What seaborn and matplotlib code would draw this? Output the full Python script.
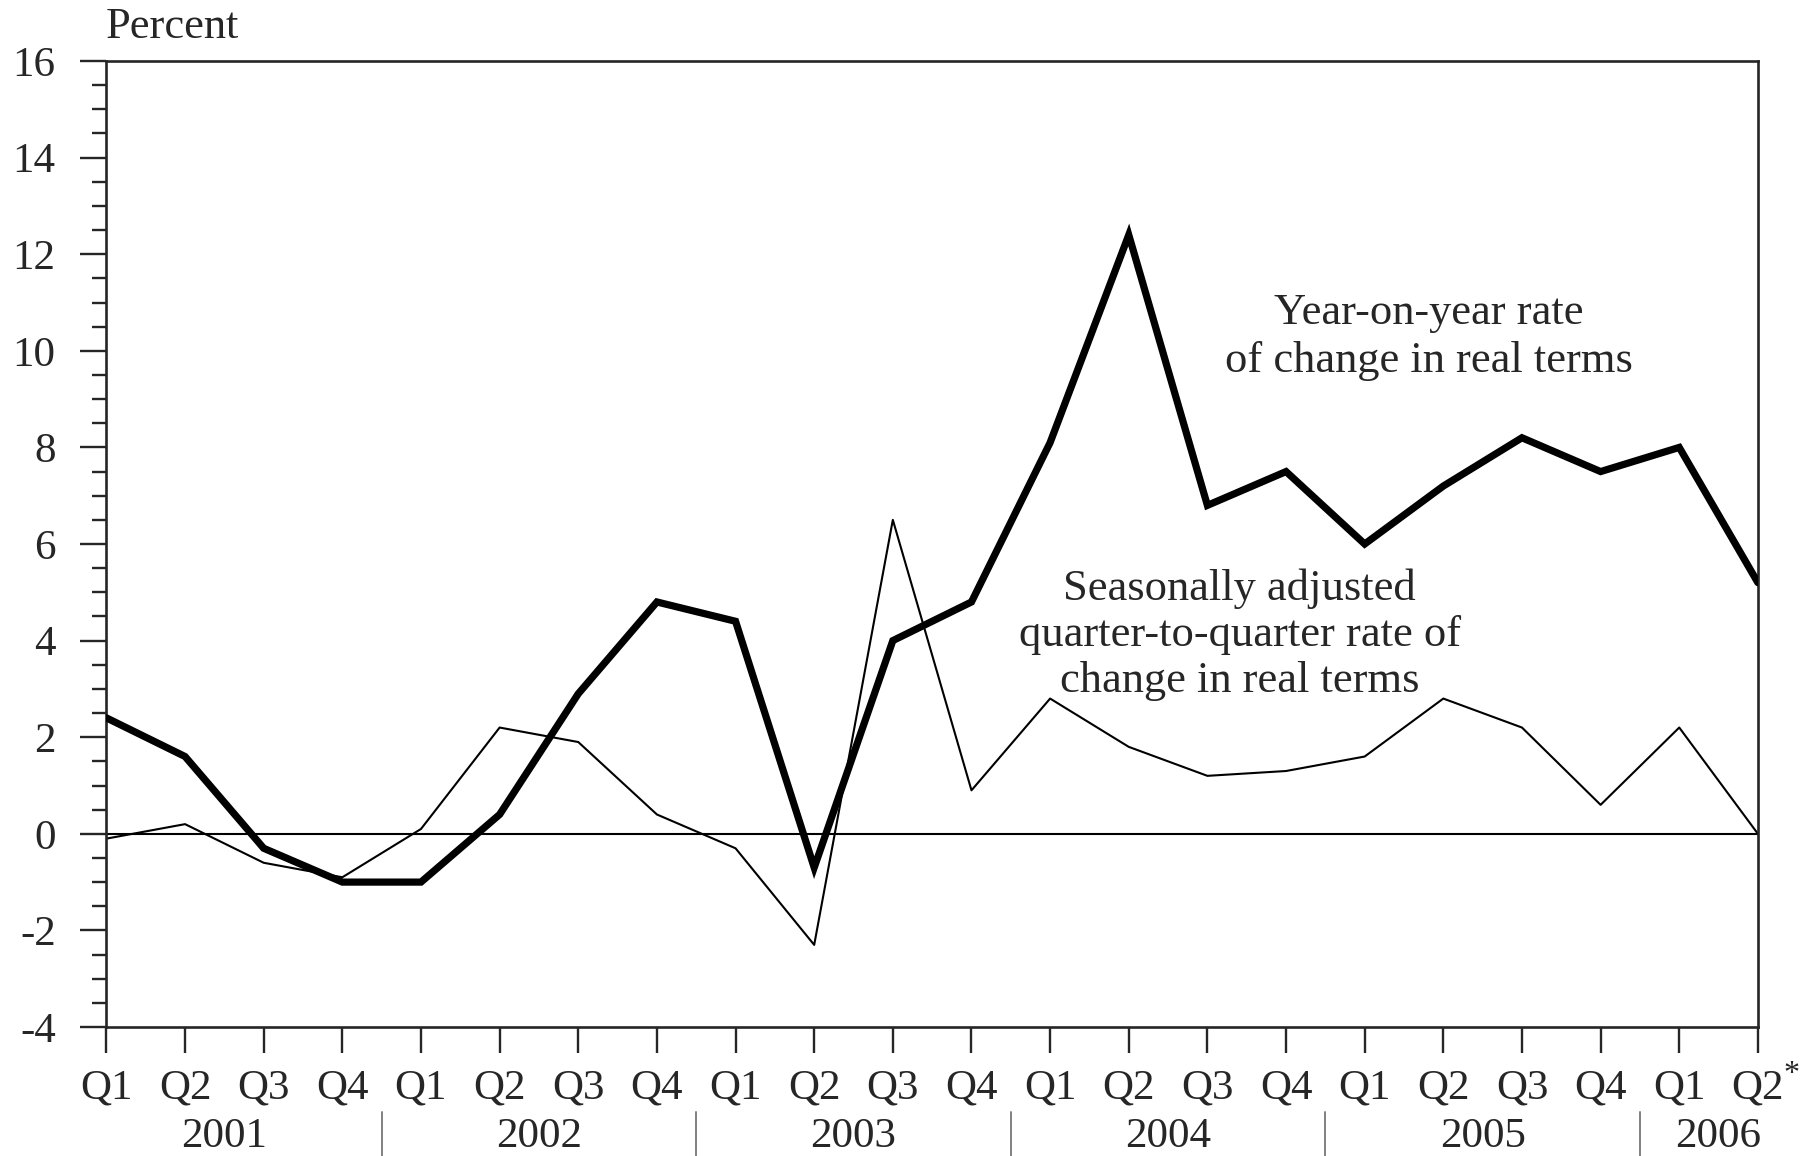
import matplotlib
matplotlib.use("Agg")
import matplotlib.pyplot as plt
import matplotlib.transforms as mtransforms
from matplotlib.ticker import MultipleLocator
import seaborn as sns
import pandas as pd

# ---- data ----
quarters = ["Q1", "Q2", "Q3", "Q4", "Q1", "Q2", "Q3", "Q4", "Q1", "Q2", "Q3", "Q4",
            "Q1", "Q2", "Q3", "Q4", "Q1", "Q2", "Q3", "Q4", "Q1", "Q2"]
years = ["2001", "2002", "2003", "2004", "2005", "2006"]
quarters_per_year = [4, 4, 4, 4, 4, 2]
yoy_real = [2.4, 1.6, -0.3, -1.0, -1.0, 0.4, 2.9, 4.8, 4.4, -0.7, 4.0, 4.8,
            8.1, 12.4, 6.8, 7.5, 6.0, 7.2, 8.2, 7.5, 8.0, 5.2]
qoq_sa_real = [-0.1, 0.2, -0.6, -0.9, 0.1, 2.2, 1.9, 0.4, -0.3, -2.3, 6.5, 0.9,
               2.8, 1.8, 1.2, 1.3, 1.6, 2.8, 2.2, 0.6, 2.2, 0.0]

df = pd.DataFrame({"idx": range(len(quarters)), "yoy": yoy_real, "qoq": qoq_sa_real})

sns.set_style("ticks")
plt.rcParams["font.family"] = ["Liberation Serif", "DejaVu Serif"]

fig = plt.figure(figsize=(18.16, 11.56), dpi=100)
ax = fig.add_axes([0.0586, 0.1116, 0.968 - 0.0586, 0.9472 - 0.1116])

ax.axhline(0, color="black", lw=1.5, zorder=1)
sns.lineplot(data=df, x="idx", y="qoq", ax=ax, color="black", lw=1.5, zorder=2)
sns.lineplot(data=df, x="idx", y="yoy", ax=ax, color="black", lw=5.2, zorder=3,
             solid_joinstyle="miter")

n = len(quarters)
ax.set_xlim(0, n - 1)
ax.set_ylim(-4, 16)
ax.set_xlabel("")
ax.set_ylabel("")

for s in ax.spines.values():
    s.set_linewidth(1.9)
    s.set_visible(True)

TICK_FS = 31
ANN_FS = 32

ax.yaxis.set_major_locator(MultipleLocator(2))
ax.yaxis.set_minor_locator(MultipleLocator(0.5))
ax.set_yticks(ax.get_yticks())
ax.set_yticklabels([f"{int(v)}" for v in ax.get_yticks()])
ax.set_ylim(-4, 16)
ax.tick_params(axis="y", which="major", direction="out", length=18.5, width=1.7,
               labelsize=TICK_FS, pad=18)
ax.tick_params(axis="y", which="minor", direction="out", length=10, width=1.7)

ax.set_xticks(range(n))
ax.set_xticklabels(quarters)
ax.tick_params(axis="x", which="major", direction="out", length=18.5, width=1.7,
               labelsize=TICK_FS, pad=12)

# asterisk on last quarter
trans_x = mtransforms.blended_transform_factory(ax.transData, ax.transAxes)
ax.text(n - 1 + 0.43, -0.0569, "*", transform=trans_x, fontsize=23,
        ha="center", va="baseline")

# year labels & separators
start = 0
for yr, cnt in zip(years, quarters_per_year):
    center = start + (cnt - 1) / 2
    ax.text(center, -0.1242, yr, transform=trans_x, fontsize=TICK_FS,
            ha="center", va="baseline")
    end = start + cnt
    if end < n:
        ax.plot([end - 0.5, end - 0.5], [-0.088, -0.14], transform=trans_x,
                color="#808080", lw=1.4, clip_on=False)
    start = end

# annotations
ax.text(16.82, 10.28, "Year-on-year rate\nof change in real terms", fontsize=ANN_FS,
        ha="center", va="center", linespacing=1.25)
ax.text(14.41, 4.12, "Seasonally adjusted\nquarter-to-quarter rate of\nchange in real terms",
        fontsize=ANN_FS, ha="center", va="center", linespacing=1.2)

fig.text(106 / 1816, 1 - 38 / 1156, "Percent", fontsize=ANN_FS, ha="left", va="baseline")

fig.savefig("out.png", dpi=100)
